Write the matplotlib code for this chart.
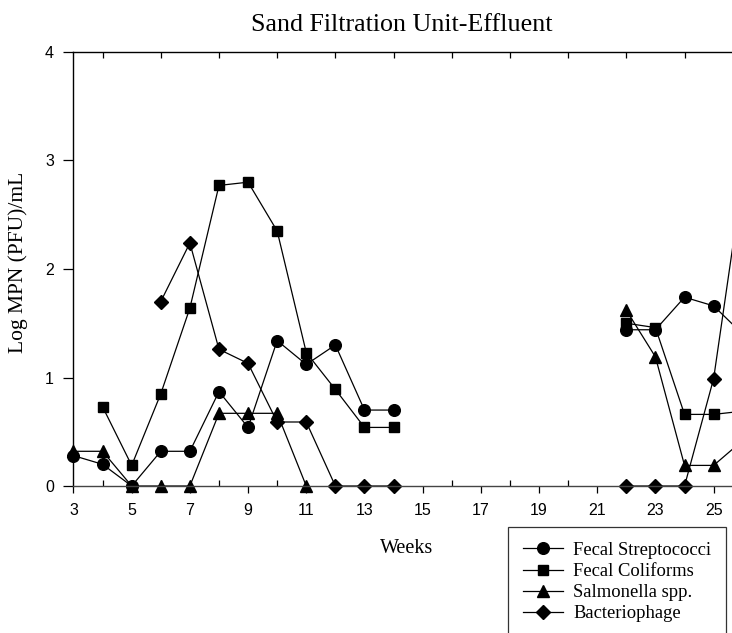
import numpy as np
import matplotlib
matplotlib.use('Agg')
import matplotlib.pyplot as plt
from matplotlib.ticker import MultipleLocator, FixedLocator

nan = np.nan
gap = [nan] * 7  # weeks 15-21, no samples

weeks = list(range(3, 27))
strep = [0.28, 0.20, 0.00, 0.32, 0.32, 0.87, 0.54, 1.34, 1.12, 1.30, 0.70, 0.70] + gap + [1.44, 1.44, 1.74, 1.66, 1.40]
coliforms = [nan, 0.73, 0.19, 0.85, 1.64, 2.77, 2.80, 2.35, 1.23, 0.89, 0.54, 0.54] + gap + [1.50, 1.46, 0.66, 0.66, 0.69]
salmonella = [0.32, 0.32, 0.00, 0.00, 0.00, 0.67, 0.67, 0.67, 0.00, nan, nan, nan] + gap + [1.62, 1.19, 0.19, 0.19, 0.42]
phage = [nan, nan, nan, 1.70, 2.24, 1.26, 1.13, 0.59, 0.59, 0.00, 0.00, 0.00] + gap + [0.00, 0.00, 0.00, 0.99, 2.84]

labels = ['Fecal Streptococci', 'Fecal Coliforms', 'Salmonella spp.', 'Bacteriophage']
series = [strep, coliforms, salmonella, phage]
markers = ['o', 's', '^', 'D']
msizes = [8.4, 7.4, 8.6, 6.8]

serif = 'Liberation Serif'
sans = 'Liberation Sans'

fig = plt.figure(figsize=(7.32, 6.33), dpi=100)
# axes runs past the right edge of the figure, as in the cropped original
ax = fig.add_axes([0.1004, 0.2322, 0.954, 0.6857])

for vals, mk, ms, lab in zip(series, markers, msizes, labels):
    ax.plot(weeks, vals, color='black', lw=0.9, marker=mk, ms=ms,
            mfc='black', mec='black', label=lab, clip_on=False)

ax.set_xlim(3, 27)
ax.set_ylim(0, 4)

ax.spines['right'].set_visible(False)
for s in ['left', 'bottom', 'top']:
    ax.spines[s].set_linewidth(1.0)
    ax.spines[s].set_color('black')
ax.spines['bottom'].set_color('#444444')

ax.xaxis.set_major_locator(FixedLocator(list(range(3, 27, 2))))
ax.xaxis.set_minor_locator(FixedLocator(list(range(4, 27, 2))))
ax.yaxis.set_major_locator(MultipleLocator(1))

ax.tick_params(axis='x', which='major', direction='out', length=5, width=0.9,
               pad=7, labelsize=11.5)
ax.tick_params(axis='x', which='minor', direction='in', length=4, width=0.9,
               top=True, bottom=True)
ax.tick_params(axis='y', which='major', direction='out', length=7, width=0.9,
               pad=7, labelsize=11.5)
for t in ax.get_xticklabels() + ax.get_yticklabels():
    t.set_fontfamily(sans)

fig.text(0.5488, 1 - 31 / 633, 'Sand Filtration Unit-Effluent', ha='center', va='baseline',
         fontsize=18.7, family=serif)
fig.text(407 / 732, 1 - 553 / 633, 'Weeks', ha='center', va='baseline',
         fontsize=14.5, family=serif)
fig.text(18.5 / 732, 1 - 262 / 633, 'Log MPN (PFU)/mL', ha='center', va='center',
         rotation=90, fontsize=15.5, family=serif)

leg = fig.legend(loc='upper left', bbox_to_anchor=(508 / 732, 1 - 527 / 633),
                 frameon=True, fancybox=False, framealpha=1, edgecolor='#333333',
                 prop={'family': serif, 'size': 13.4}, handlelength=2.15,
                 handletextpad=0.55, labelspacing=0.22, borderpad=0.8,
                 borderaxespad=0)
leg.get_frame().set_linewidth(0.9)

fig.savefig('out.png', dpi=100)
